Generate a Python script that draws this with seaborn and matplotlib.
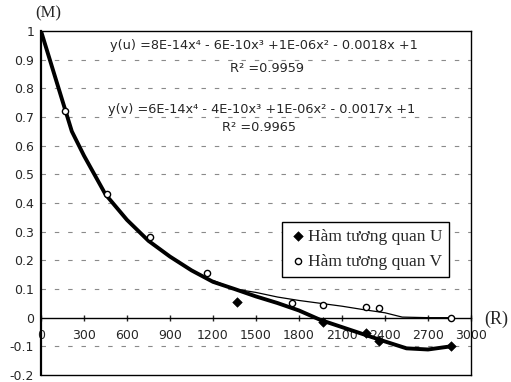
import matplotlib
matplotlib.use("Agg")
import matplotlib.pyplot as plt
import seaborn as sns
import pandas as pd

# measured points (R in m, M correlation); None = hidden under the trend line
r_pts = [0, 165, 460, 760, 1160, 1365, 1750, 1965, 2270, 2355, 2860]
u_pts = [None, None, None, None, None, 0.056, None, -0.015, -0.055, -0.083, -0.10]
v_pts = [None, 0.72, 0.43, 0.28, 0.155, None, 0.052, 0.045, 0.038, 0.035, 0.0]

# trendlines
trend_u_r = [0, 215, 300, 450, 600, 750, 900, 1050, 1200, 1350, 1500, 1650, 1800,
             1950, 2100, 2250, 2400, 2550, 2700, 2860]
trend_u_m = [1.0, 0.65, 0.565, 0.43, 0.341, 0.268, 0.213, 0.165, 0.125, 0.10, 0.074,
             0.051, 0.025, -0.008, -0.033, -0.058, -0.083, -0.107, -0.111, -0.10]
trend_v_r = [1200, 1350, 1500, 1650, 1800, 1950, 2100, 2250, 2400, 2520, 2700, 2860]
trend_v_m = [0.13, 0.10, 0.088, 0.072, 0.06, 0.05, 0.04, 0.028, 0.017, 0.002, 0.0, 0.0]

x_ticks = [0, 300, 600, 900, 1200, 1500, 1800, 2100, 2400, 2700, 3000]
y_ticks = [1, 0.9, 0.8, 0.7, 0.6, 0.5, 0.4, 0.3, 0.2, 0.1, 0, -0.1, -0.2]

eq_u = "y(u) =8E-14x\u2074 - 6E-10x\u00b3 +1E-06x\u00b2 - 0.0018x +1"
eq_v = "y(v) =6E-14x\u2074 - 4E-10x\u00b3 +1E-06x\u00b2 - 0.0017x +1"
r2_u = "R\u00b2 =0.9959"
r2_v = "R\u00b2 =0.9965"
lbl_u = "Hàm tương quan U"
lbl_v = "Hàm tương quan V"

pts = pd.DataFrame({"R": r_pts, "U": u_pts, "V": v_pts}).astype(float)
tu = pd.DataFrame({"R": trend_u_r, "M": trend_u_m})
tv = pd.DataFrame({"R": trend_v_r, "M": trend_v_m})

sns.set_style("white")
plt.rcParams["font.family"] = ["DejaVu Sans"]

fig = plt.figure(figsize=(5.11, 3.82), dpi=100)
ax = fig.add_axes([41 / 511, 7 / 382, 430 / 511, 344 / 382])

# dashed grid
for yv in [0.1, 0.2, 0.3, 0.4, 0.5, 0.6, 0.7, 0.8, 0.9, -0.1]:
    ax.axhline(yv, color="#8a8a8a", lw=0.8, ls=(0, (4, 8)), zorder=0)

sns.lineplot(data=tv, x="R", y="M", ax=ax, color="black", lw=0.9, zorder=2)
sns.lineplot(data=tu, x="R", y="M", ax=ax, color="black", lw=2.8, zorder=3)
sns.scatterplot(data=pts, x="R", y="V", ax=ax, marker="o", s=20, facecolor="white",
                edgecolor="black", linewidth=1.0, zorder=4, label=lbl_v)
sns.scatterplot(data=pts, x="R", y="U", ax=ax, marker="D", s=24, color="black",
                edgecolor="black", zorder=5, label=lbl_u)

ax.set_xlim(0, 3000)
ax.set_ylim(-0.2, 1.0)
ax.set_xlabel("")
ax.set_ylabel("")

for s in ax.spines.values():
    s.set_color("black")
    s.set_linewidth(1.0)
ax.spines["left"].set_linewidth(1.6)

ax.set_yticks(y_ticks)
ax.set_yticklabels([("%g" % t) for t in y_ticks], fontsize=9)
ax.tick_params(axis="y", direction="inout", length=6, width=1, pad=2)
ax.set_xticks([])

# x axis sits on M = 0
sec = ax.secondary_xaxis(0.2 / 1.2)
sec.spines["bottom"].set_color("black")
sec.spines["bottom"].set_linewidth(1.0)
sec.set_xticks(x_ticks)
sec.set_xticklabels([str(t) for t in x_ticks], fontsize=9)
sec.tick_params(axis="x", direction="inout", length=5, width=1, pad=6)

ax.text(110 / 511, 1 - 46 / 382, eq_u, transform=fig.transFigure, fontsize=9.3,
        va="center", ha="left")
ax.text(230 / 511, 1 - 69 / 382, r2_u, transform=fig.transFigure, fontsize=9.3,
        va="center", ha="left")
ax.text(108 / 511, 1 - 110 / 382, eq_v, transform=fig.transFigure, fontsize=9.3,
        va="center", ha="left")
ax.text(222 / 511, 1 - 127 / 382, r2_v, transform=fig.transFigure, fontsize=9.3,
        va="center", ha="left")

fig.text(48 / 511, 1 - 13 / 382, "(M)", family="Liberation Serif", fontsize=12,
         ha="center", va="center")
fig.text(496 / 511, 1 - 319 / 382, "(R)", family="Liberation Serif", fontsize=13,
         ha="center", va="center")

h, l = ax.get_legend_handles_labels()
order = [l.index(lbl_u), l.index(lbl_v)]
leg = ax.legend([h[i] for i in order], [l[i] for i in order], loc="upper left",
                bbox_to_anchor=(0.54, 0.471), frameon=True, fancybox=False,
                edgecolor="black", framealpha=1, handletextpad=0.1,
                borderpad=0.4, labelspacing=0.5, handlelength=1.0,
                prop={"family": "Liberation Serif", "size": 12.5})
leg.get_frame().set_linewidth(1.0)

fig.savefig("out.png", dpi=100)
